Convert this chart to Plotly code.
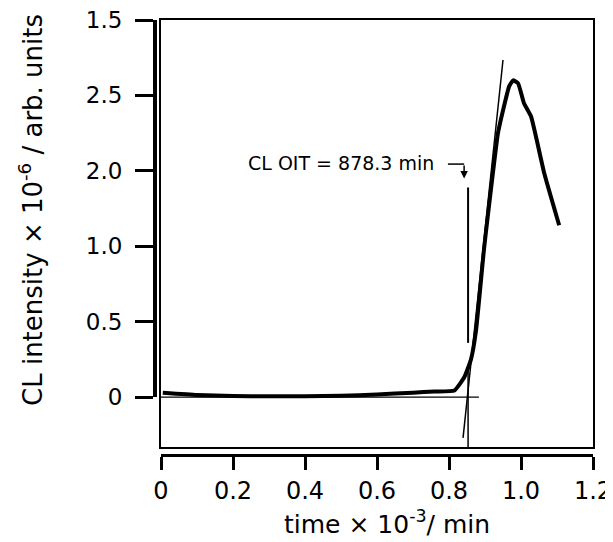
import plotly.graph_objects as go

# Data (time in units of 10^3 min, CL intensity in units of 10^6)
time = [0.005, 0.1, 0.2, 0.3, 0.4, 0.5, 0.6, 0.7, 0.76, 0.815, 0.842, 0.861, 0.875, 0.897,
        0.936, 0.95, 0.967, 0.978, 0.992, 1.008, 1.028, 1.064, 1.106]
cl = [0.03, 0.015, 0.008, 0.006, 0.007, 0.01, 0.018, 0.03, 0.038, 0.045, 0.13, 0.25, 0.44, 0.975,
      1.75, 1.9, 2.06, 2.10, 2.08, 1.95, 1.86, 1.49, 1.14]

tangent_x = [0.839, 0.95]
tangent_y = [-0.27, 2.235]
baseline_x = [0.0, 0.883]
baseline_y = [0.0, 0.0]
oit_x = 0.853
oit_upper = [0.36, 1.39]
oit_lower = [-0.33, 0.2]

x_ticks = [0, 0.2, 0.4, 0.6, 0.8, 1.0, 1.2]
x_ticktext = ["0", "0.2", "0.4", "0.6", "0.8", "1.0", "1.2"]
y_ticks = [0, 0.5, 1.0, 1.5, 2.0, 2.5]
y_ticktext = ["0", "0.5", "1.0", "2.0", "2.5", "1.5"]

# page body has an 8px margin; work in page pixels and convert
OFF = 8
W, H = 613 - OFF, 542 - OFF
ml, mr, mt, mb = 150 - OFF, 20, 20 - OFF, 85
pw = W - ml - mr
ph = H - mt - mb


def fx(px):
    return (px - OFF - ml) / pw


def fy(py):
    return ((H - mb) - (py - OFF)) / ph


x_dom0 = fx(161)
y_dom0 = fy(447)
yax_pos = fx(155)
xax_pos = fy(455)
y2_dom0 = fy(397)

font = "DejaVu Sans, Liberation Sans, Arial, sans-serif"

fig = go.Figure()
fig.add_trace(go.Scatter(x=baseline_x, y=baseline_y, mode="lines",
                         line=dict(color="black", width=1.3), showlegend=False, hoverinfo="skip"))
fig.add_trace(go.Scatter(x=[oit_x, oit_x], y=oit_upper, mode="lines",
                         line=dict(color="black", width=2), showlegend=False, hoverinfo="skip"))
fig.add_trace(go.Scatter(x=[oit_x, oit_x], y=oit_lower, mode="lines",
                         line=dict(color="black", width=1.5), showlegend=False, hoverinfo="skip"))
fig.add_trace(go.Scatter(x=tangent_x, y=tangent_y, mode="lines",
                         line=dict(color="black", width=1.5), showlegend=False, hoverinfo="skip"))
fig.add_trace(go.Scatter(x=time, y=cl, mode="lines",
                         line=dict(color="black", width=4, shape="spline", smoothing=0.4),
                         showlegend=False))
# dummy trace so that the tick axes are drawn
fig.add_trace(go.Scatter(x=[None], y=[None], xaxis="x2", yaxis="y2", showlegend=False))

fig.add_annotation(x=0.764, y=1.55, xref="x", yref="y", text="CL OIT = 878.3 min",
                   showarrow=False, xanchor="right", yanchor="middle",
                   font=dict(family=font, size=19, color="black"))
fig.add_shape(type="line", x0=0.797, x1=0.842, y0=1.545, y1=1.545, xref="x", yref="y",
              line=dict(color="black", width=1.5))
fig.add_annotation(x=0.842, y=1.45, ax=0.842, ay=1.545, xref="x", yref="y", axref="x", ayref="y",
                   text="", showarrow=True, arrowhead=2, arrowsize=1, arrowwidth=1.5,
                   arrowcolor="black")

fig.update_layout(
    width=W, height=H,
    margin=dict(l=ml, r=mr, t=mt, b=mb, autoexpand=False),
    paper_bgcolor="white", plot_bgcolor="rgba(0,0,0,0)",
    font=dict(family=font, color="black", size=22),
    xaxis=dict(domain=[x_dom0, 1], range=[0, 1.2], showline=True, mirror=True,
               linecolor="black", linewidth=2, ticks="", showticklabels=False,
               showgrid=False, zeroline=False, automargin=False),
    yaxis=dict(domain=[y_dom0, 1], range=[-0.33, 2.5], showline=True, mirror=True,
               linecolor="black", linewidth=2, ticks="", showticklabels=False,
               showgrid=False, zeroline=False, automargin=False),
    xaxis2=dict(domain=[x_dom0, 1], range=[0, 1.2], anchor="free", position=xax_pos,
                showline=True, linecolor="black", linewidth=3, ticks="outside",
                ticklen=13, tickwidth=2.5, tickcolor="black", ticklabeloverflow="allow",
                tickvals=x_ticks, ticktext=x_ticktext, tickfont=dict(size=24),
                showgrid=False, zeroline=False, automargin=False),
    yaxis2=dict(domain=[y2_dom0, 1], range=[0, 2.5], anchor="free", position=yax_pos,
                showline=True, linecolor="black", linewidth=4, ticks="outside",
                ticklen=18, tickwidth=2.5, tickcolor="black", ticklabelstandoff=8,
                ticklabeloverflow="allow",
                tickvals=y_ticks, ticktext=y_ticktext, tickfont=dict(size=23),
                showgrid=False, zeroline=False, automargin=False),
)
fig.add_annotation(xref="paper", yref="paper",
                   x=fx(387), y=fy(522),
                   text="time × 10<sup>-3</sup>/ min",
                   showarrow=False, xanchor="center", yanchor="middle",
                   font=dict(family=font, size=25, color="black"))
fig.add_annotation(xref="paper", yref="paper",
                   x=fx(31), y=fy(210),
                   text="CL intensity × 10<sup>-6</sup> / arb. units", textangle=-90,
                   showarrow=False, xanchor="center", yanchor="middle",
                   font=dict(family=font, size=26, color="black"))

fig.write_html("out.html")
